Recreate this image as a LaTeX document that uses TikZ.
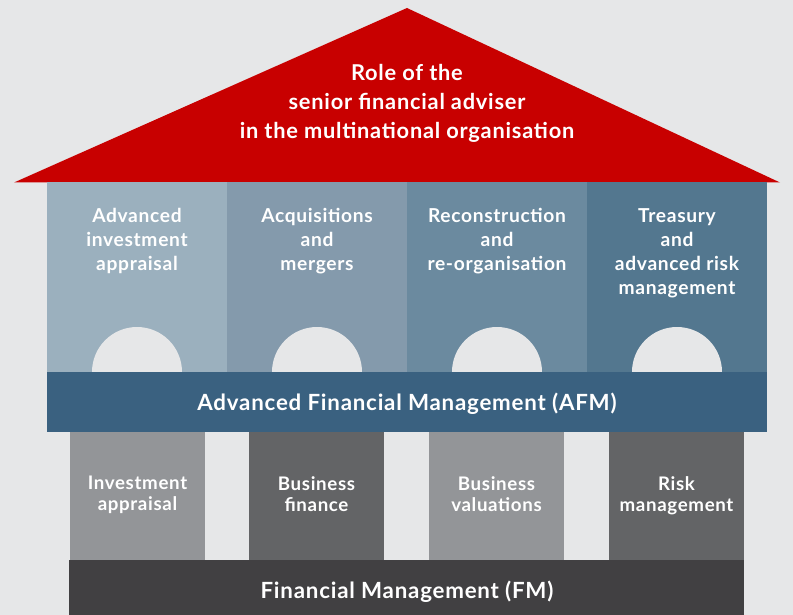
\documentclass[tikz,border=0pt]{standalone}
\usepackage{fontspec}
\setmainfont{Lato}[LetterSpace=3.5]
\definecolor{bg}{HTML}{E6E7E8}
\definecolor{roofred}{HTML}{C80000}
\definecolor{colA}{HTML}{9BB0BE}
\definecolor{colB}{HTML}{849AAC}
\definecolor{colC}{HTML}{6B8A9F}
\definecolor{colD}{HTML}{53778F}
\definecolor{afmblue}{HTML}{3A6180}
\definecolor{greylight}{HTML}{939598}
\definecolor{greydark}{HTML}{636466}
\definecolor{fmgrey}{HTML}{414042}

\begin{document}
\begin{tikzpicture}[x=1pt,y=-1pt,
    roofl/.style={text=white,font=\bfseries\fontsize{21.8}{29}\selectfont,align=center,inner sep=0pt},
    topl/.style={text=white,font=\bfseries\fontsize{19.2}{24}\selectfont,align=center,inner sep=0pt},
    bandl/.style={text=white,font=\bfseries\fontsize{22.3}{26}\selectfont,inner sep=0pt},
    lowl/.style={text=white,font=\bfseries\fontsize{18.7}{21}\selectfont,align=center,inner sep=0pt}]
    \useasboundingbox (0,0) rectangle (793,615);
    \fill[bg] (0,0) rectangle (793,615);
    \fill[roofred] (14,182.5) -- (407,8) -- (780,182.5) -- cycle;
    \fill[colA] (47,182.5) rectangle (227,372);
    \fill[colB] (227,182.5) rectangle (407,372);
    \fill[colC] (407,182.5) rectangle (587,372);
    \fill[colD] (587,182.5) rectangle (767,372);
    \foreach \cx in {137,317,497,677}
      \fill[bg] (\cx-45,372) arc[start angle=180,end angle=360,radius=45];
    \fill[afmblue] (47,371.5) rectangle (767,432);
    \fill[greylight] (70,432) rectangle (205,560);
    \fill[greydark] (249,432) rectangle (384,560);
    \fill[greylight] (429,432) rectangle (564,560);
    \fill[greydark] (609,432) rectangle (744,560);
    \fill[fmgrey] (69,560) rectangle (744,615);
    \node[roofl,anchor=north] (n0) at (407,64) {Role of the\\senior financial adviser\\in the multinational organisation};
    \node[topl,anchor=north] (n1) at (137,208) {Advanced\\investment\\appraisal};
    \node[topl,anchor=north] (n2) at (317,208) {Acquisitions\\and\\mergers};
    \node[topl,anchor=north] (n3) at (497,208) {Reconstruction\\and\\re-organisation};
    \node[topl,anchor=north] (n4) at (677,208) {Treasury\\and\\advanced risk\\management};
    \node[bandl,anchor=base] (n5) at (407,410) {Advanced Financial Management (AFM)};
    \node[lowl,anchor=north] (n6) at (137.5,476) {Investment\\appraisal};
    \node[lowl,anchor=north] (n7) at (316.5,476) {Business\\finance};
    \node[lowl,anchor=north] (n8) at (496.5,476) {Business\\valuations};
    \node[lowl,anchor=north] (n9) at (676.5,476) {Risk\\management};
    \node[bandl,anchor=base] (n10) at (407,598) {Financial Management (FM)};
\end{tikzpicture}
\end{document}
